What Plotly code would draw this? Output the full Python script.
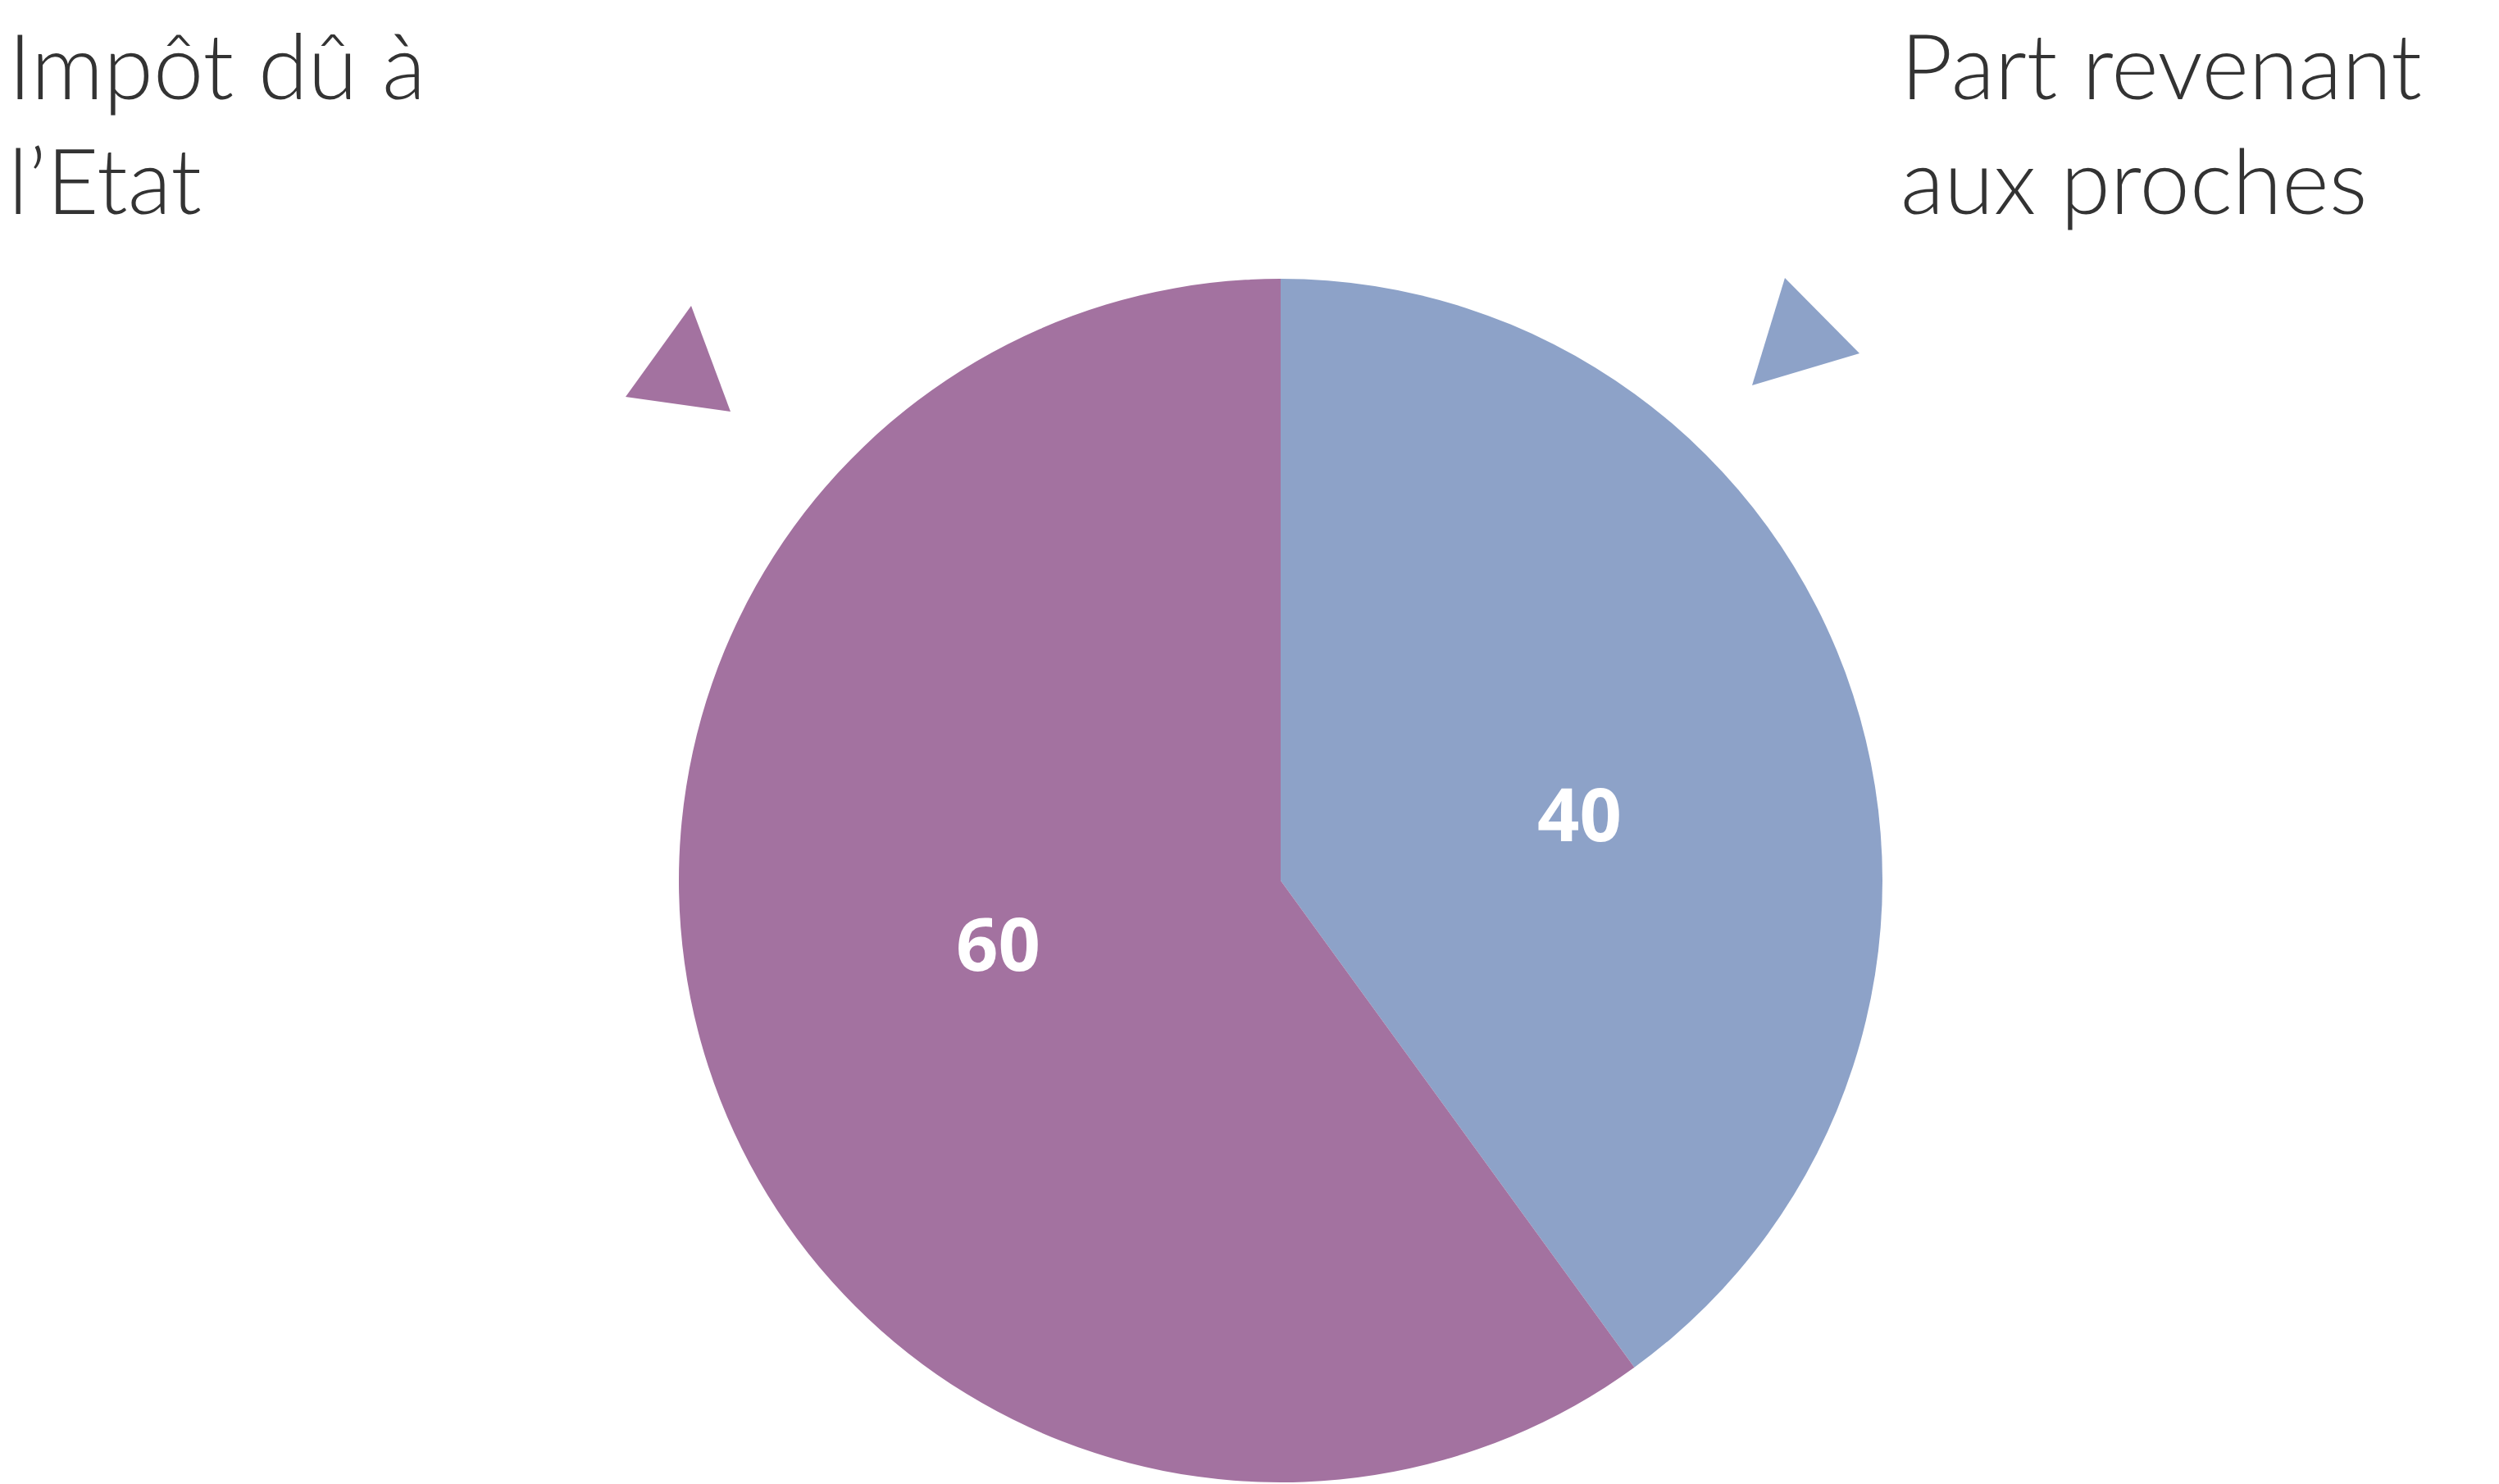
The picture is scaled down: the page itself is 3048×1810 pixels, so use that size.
import math
import plotly.graph_objects as go

# Data
categories = ["Part revenant aux proches", "Impôt dû à l'Etat"]
values = [40, 60]
colors = ["#8DA2C8", "#A372A0"]
title_left = ["Impôt dû à", "l’Etat"]
title_right = ["Part revenant", "aux proches"]

OFF = 8  # page body margin
W, H = 3048 - OFF, 1810 - OFF
CX, CY, R = 1562 - OFF, 1074 - OFF, 734

fig = go.Figure()

fig.add_trace(go.Pie(
    labels=categories,
    values=values,
    sort=False,
    direction="clockwise",
    rotation=0,
    marker=dict(colors=colors, line=dict(width=0)),
    textinfo="none",
    hoverinfo="label+value",
    showlegend=False,
    domain=dict(x=[(CX - R) / W, (CX + R) / W],
                y=[(H - CY - R) / H, (H - CY + R) / H]),
))

# hidden pixel axes for decoration
fig.add_trace(go.Scatter(x=[0, W], y=[0, H], mode="markers",
                         marker=dict(opacity=0), hoverinfo="skip", showlegend=False))
fig.update_xaxes(range=[0, W], visible=False, fixedrange=True)
fig.update_yaxes(range=[H, 0], visible=False, fixedrange=True)

# value labels placed along each slice's direction (derived from values)
total = sum(values)
cum = 0
for v in values:
    ang = math.radians((cum + v / 2) / total * 360 + 5.5)
    cum += v
    rf = 0.495 * R
    fig.add_annotation(x=CX + rf * math.sin(ang) + 10, y=CY - rf * math.cos(ang) - 4,
                       xref="x", yref="y", text=str(v), showarrow=False,
                       xanchor="center", yanchor="middle",
                       font=dict(family="Open Sans", size=90, color="white", weight="bold"))

# Arrow triangles
def tri(pts):
    return "M " + " L ".join(f"{x - OFF} {y - OFF}" for x, y in pts) + " Z"

fig.add_shape(type="path", path=tri([(843, 373), (763, 484), (891, 502)]),
              xref="x", yref="y", fillcolor=colors[1], line=dict(width=0), layer="above")
fig.add_shape(type="path", path=tri([(2177, 339), (2268, 431), (2137, 470)]),
              xref="x", yref="y", fillcolor=colors[0], line=dict(width=0), layer="above")

tfont = dict(family="Lato", size=110, color="#333333", weight=300)
base_y = [122, 262]
for i, t in enumerate(title_left):
    fig.add_annotation(x=0, y=base_y[i] + 24 - OFF, xref="x", yref="y", text=t, showarrow=False,
                       xanchor="left", yanchor="bottom", font=tfont)
for i, t in enumerate(title_right):
    fig.add_annotation(x=2316 - OFF, y=base_y[i] + 24 - OFF, xref="x", yref="y", text=t, showarrow=False,
                       xanchor="left", yanchor="bottom", font=tfont)

fig.update_layout(
    width=W, height=H,
    margin=dict(l=0, r=0, t=0, b=0),
    paper_bgcolor="white", plot_bgcolor="white",
)

fig.write_html("out.html")
